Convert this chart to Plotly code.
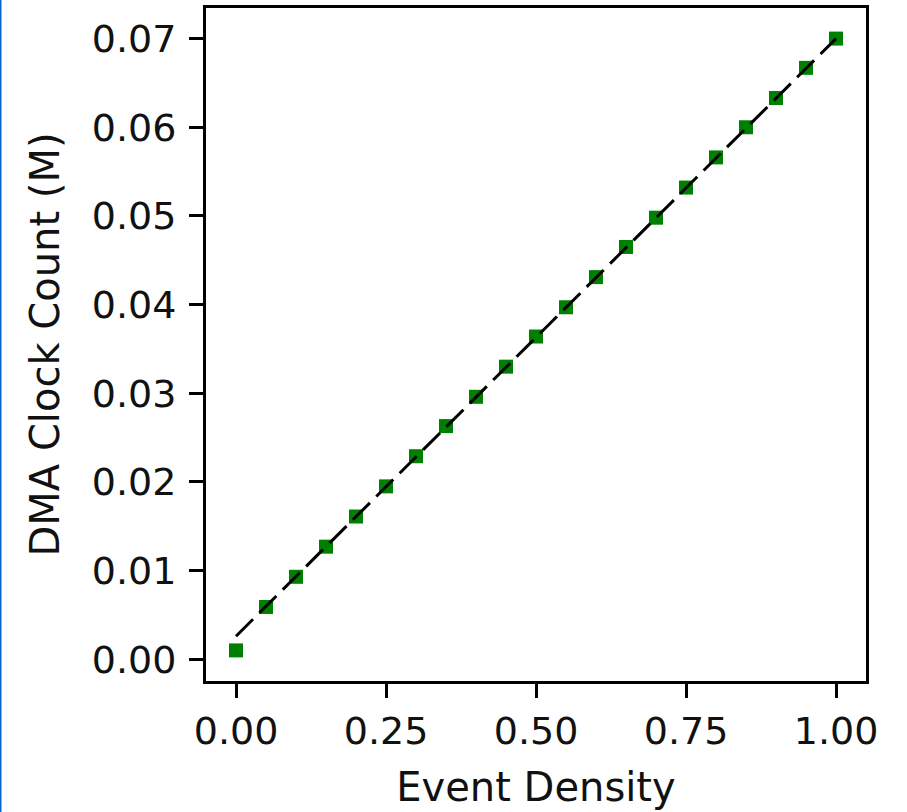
import plotly.graph_objects as go

# Data
event_density = [0.00, 0.05, 0.10, 0.15, 0.20, 0.25, 0.30, 0.35, 0.40, 0.45, 0.50,
                 0.55, 0.60, 0.65, 0.70, 0.75, 0.80, 0.85, 0.90, 0.95, 1.00]
dma_clock_count = [0.0010, 0.0059, 0.0093, 0.0127, 0.0161, 0.0195, 0.0229, 0.0263,
                   0.0296, 0.0330, 0.0364, 0.0397, 0.0431, 0.0465, 0.0498, 0.0532,
                   0.0566, 0.0600, 0.0633, 0.0667, 0.0700]
fit_x = [0.0, 1.0]
fit_y = [0.0026, 0.0700]

x_ticks = [0.00, 0.25, 0.50, 0.75, 1.00]
x_tick_labels = ["0.00", "0.25", "0.50", "0.75", "1.00"]
y_ticks = [0.00, 0.01, 0.02, 0.03, 0.04, 0.05, 0.06, 0.07]
y_tick_labels = ["0.00", "0.01", "0.02", "0.03", "0.04", "0.05", "0.06", "0.07"]

FONT = "DejaVu Sans"
TXT = "#111111"

fig = go.Figure()
fig.add_trace(go.Scatter(
    x=event_density, y=dma_clock_count, mode="markers",
    marker=dict(symbol="square", size=14, color="#008000", line=dict(width=0)),
    showlegend=False, hoverinfo="x+y",
))
fig.add_trace(go.Scatter(
    x=fit_x, y=fit_y, mode="lines",
    line=dict(color="black", width=3, dash="24px,9px"),
    showlegend=False, hoverinfo="skip",
))

W, H = 907, 812
ml, mr, mt, mb = 206, 41, 8, 131
pw, ph = W - ml - mr, H - mt - mb

fig.update_layout(
    width=W, height=H,
    margin=dict(l=ml, r=mr, t=mt, b=mb, pad=0),
    paper_bgcolor="white", plot_bgcolor="white",
    font=dict(family=FONT, color=TXT, size=38),
    xaxis=dict(
        range=[-0.05, 1.05], tickvals=x_ticks, ticktext=x_tick_labels,
        showgrid=False, zeroline=False,
        showline=True, mirror=True, linecolor="black", linewidth=3,
        ticks="outside", ticklen=14, tickwidth=3, tickcolor="black",
        tickfont=dict(family=FONT, size=38, color=TXT),
        title=dict(text="Event Density", font=dict(family=FONT, size=40, color=TXT), standoff=22),
        automargin=False,
    ),
    yaxis=dict(
        range=[-0.00245, 0.07345], tickvals=y_ticks, ticktext=y_tick_labels,
        showgrid=False, zeroline=False,
        showline=True, mirror=True, linecolor="black", linewidth=3,
        ticks="outside", ticklen=14, tickwidth=3, tickcolor="black",
        ticklabelstandoff=5,
        tickfont=dict(family=FONT, size=38, color=TXT),
        title=dict(text="DMA Clock Count (M)", font=dict(family=FONT, size=40, color=TXT), standoff=20),
        automargin=False,
    ),
    shapes=[dict(
        type="line", xref="paper", yref="paper",
        x0=(0.5 - ml) / pw, x1=(0.5 - ml) / pw,
        y0=(H - mb) / ph + 0.05, y1=-mb / ph - 0.05,
        line=dict(color="#0a66d0", width=2), layer="above",
    )],
)

fig.write_html("out.html")
